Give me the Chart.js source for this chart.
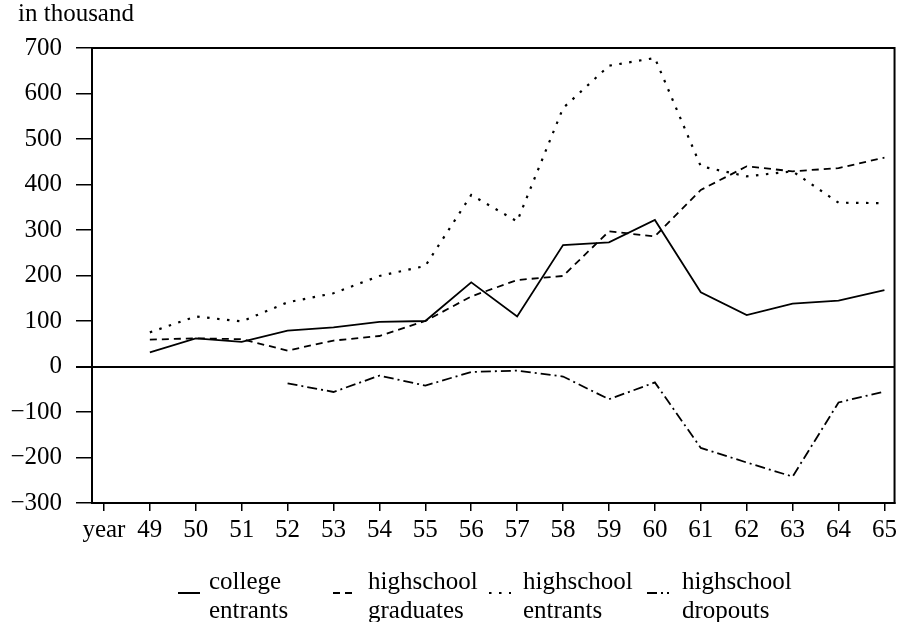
<!DOCTYPE html>
<html>
<head>
<meta charset="utf-8">
<script src="https://cdn.jsdelivr.net/npm/chart.js@4.4.1/dist/chart.umd.min.js"></script>
<style>
  html, body { margin: 0; padding: 0; background: #fff; }
  #wrap { width: 901px; height: 622px; }
</style>
</head>
<body>
<div id="wrap"><canvas id="chart"></canvas></div>
<script>
// years on the x axis (the slot before 49 carries the "year" label)
const years = [49, 50, 51, 52, 53, 54, 55, 56, 57, 58, 59, 60, 61, 62, 63, 64, 65];
const xTickLabels = ['year', '49', '50', '51', '52', '53', '54', '55', '56', '57', '58', '59', '60', '61', '62', '63', '64', '65'];

// values in thousand
const collegeEntrants = [31, 62, 54, 79, 86, 98, 100, 185, 110, 267, 273, 322, 163, 113, 138, 145, 168];
const hsGraduates     = [59, 62, 60, 35, 57, 67, 100, 154, 190, 199, 297, 286, 388, 440, 429, 436, 459];
const hsEntrants      = [75, 110, 99, 141, 161, 199, 221, 377, 319, 568, 661, 678, 440, 418, 429, 360, 359];
const hsDropouts      = [null, null, null, -37, -56, -20, -42, -12, -9, -22, -72, -35, -179, -211, -242, -79, -55];

const legendText = [['college', 'entrants'], ['highschool', 'graduates'], ['highschool', 'entrants'], ['highschool', 'dropouts']];

const FONT = 'Liberation Serif';

function pts(arr) {
    return years.map((yr, i) => ({ x: yr, y: arr[i] }));
}

function lineSet(label, arr, dash, width) {
    return {
        label: label,
        data: pts(arr),
        borderColor: '#000',
        borderWidth: width,
        borderDash: dash,
        pointRadius: 0,
        tension: 0,
        fill: false,
        spanGaps: false
    };
}

const frameAndText = {
    id: 'frameAndText',
    afterDraw(chart) {
        const c = chart.ctx;
        const a = chart.chartArea;
        c.save();
        c.strokeStyle = '#000';
        c.lineWidth = 2;
        c.setLineDash([]);
        c.strokeRect(a.left, a.top, a.right - a.left, a.bottom - a.top);

        c.fillStyle = '#000';
        c.font = '25px "' + FONT + '"';
        c.textBaseline = 'alphabetic';
        c.textAlign = 'left';
        c.fillText('in thousand', 18, 21);

        // legend, two lines of text per entry
        const sampleX = [178, 333, 489, 647];
        const textX = [209, 368, 523, 682];
        chart.data.datasets.forEach((ds, i) => {
            c.beginPath();
            c.lineWidth = 2;
            c.setLineDash(ds.borderDash || []);
            c.moveTo(sampleX[i], 593);
            c.lineTo(sampleX[i] + 22, 593);
            c.stroke();
            c.setLineDash([]);
            c.fillText(legendText[i][0], textX[i], 589);
            c.fillText(legendText[i][1], textX[i], 618);
        });
        c.restore();
    }
};

const ctx = document.getElementById('chart').getContext('2d');

const chart = new Chart(ctx, {
    type: 'line',
    data: {
        datasets: [
            lineSet('college entrants', collegeEntrants, [], 1.8),
            lineSet('highschool graduates', hsGraduates, [7, 5], 1.8),
            lineSet('highschool entrants', hsEntrants, [2.5, 7.5], 2.2),
            lineSet('highschool dropouts', hsDropouts, [10, 4, 2, 4], 1.8)
        ]
    },
    options: {
        responsive: true,
        maintainAspectRatio: false,
        animation: false,
        layout: {
            padding: { top: 48, left: 0, right: 5, bottom: 0 }
        },
        scales: {
            x: {
                type: 'linear',
                min: 47.74,
                max: 65.22,
                afterBuildTicks: (scale) => {
                    scale.ticks = xTickLabels.map((t, i) => ({ value: years[0] - 1 + i }));
                },
                afterFit: (scale) => { scale.height = 119; },
                ticks: {
                    autoSkip: false,
                    maxRotation: 0,
                    color: '#000',
                    padding: 4,
                    font: { family: FONT, size: 25 },
                    callback: (v, i) => xTickLabels[i]
                },
                grid: {
                    drawOnChartArea: false,
                    tickLength: 8,
                    tickColor: '#000',
                    lineWidth: 1.5
                },
                border: { display: true, color: '#000', width: 2 }
            },
            y: {
                min: -300,
                max: 700,
                afterFit: (scale) => { scale.width = 92; },
                ticks: {
                    stepSize: 100,
                    color: '#000',
                    padding: 14,
                    font: { family: FONT, size: 25 },
                    callback: (v) => (v < 0 ? '\u2212' + Math.abs(v) : String(v))
                },
                grid: {
                    color: (c) => (c.tick && c.tick.value === 0 ? '#000' : 'rgba(0,0,0,0)'),
                    lineWidth: (c) => (c.tick && c.tick.value === 0 ? 2 : 1.5),
                    tickLength: 16,
                    tickColor: '#000'
                },
                border: { display: true, color: '#000', width: 2 }
            }
        },
        plugins: {
            legend: { display: false },
            tooltip: { enabled: false }
        }
    },
    plugins: [frameAndText]
});
</script>
</body>
</html>
